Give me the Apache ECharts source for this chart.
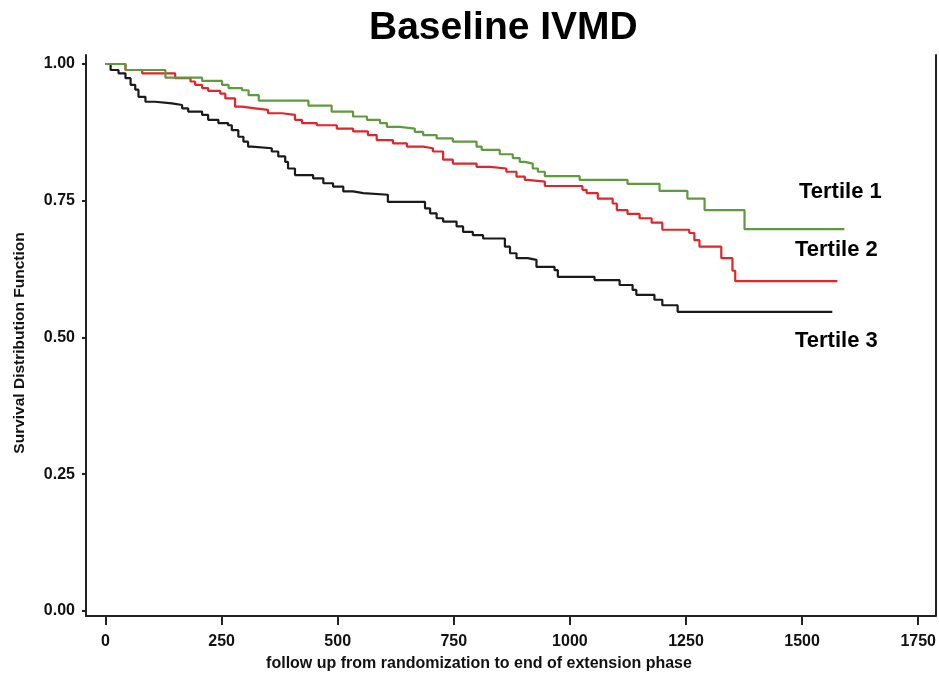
<!DOCTYPE html>
<html>
<head>
<meta charset="utf-8">
<script src="https://cdn.jsdelivr.net/npm/echarts@6/dist/echarts.min.js"></script>
<style>
  html, body { margin: 0; padding: 0; background: #fff; }
  #main { width: 939px; height: 678px; }
</style>
</head>
<body>
<div id="main"></div>
<script>
// tick labels
var xTicks = [0, 250, 500, 750, 1000, 1250, 1500, 1750];
var yTicks = [0, 0.25, 0.5, 0.75, 1];

// Tertile 1 (green)
var t1Days = [0, 43, 129, 208, 251, 265, 294, 308, 330, 437, 487, 533, 563, 591, 606, 634, 666, 684, 713, 748, 799, 810, 849, 877, 892, 903, 920, 931, 946, 1021, 1124, 1193, 1253, 1290, 1376, 1591];
var t1Surv = [1.0, 0.989, 0.975, 0.969, 0.962, 0.956, 0.952, 0.943, 0.933, 0.924, 0.913, 0.904, 0.898, 0.892, 0.885, 0.882, 0.876, 0.870, 0.864, 0.858, 0.849, 0.843, 0.835, 0.828, 0.821, 0.818, 0.809, 0.803, 0.795, 0.788, 0.781, 0.768, 0.754, 0.733, 0.698, 0.698];

// Tertile 2 (red)
var t2Days = [0, 43, 79, 150, 183, 193, 208, 221, 247, 258, 279, 294, 322, 350, 380, 408, 423, 455, 498, 533, 565, 584, 619, 649, 684, 705, 727, 748, 799, 828, 863, 885, 903, 909, 946, 1027, 1036, 1060, 1092, 1101, 1124, 1150, 1176, 1199, 1257, 1268, 1279, 1326, 1350, 1356, 1576];
var t2Surv = [1.0, 0.989, 0.983, 0.974, 0.968, 0.962, 0.956, 0.951, 0.946, 0.937, 0.922, 0.919, 0.916, 0.910, 0.907, 0.898, 0.892, 0.888, 0.882, 0.877, 0.870, 0.861, 0.855, 0.849, 0.846, 0.840, 0.825, 0.818, 0.812, 0.809, 0.803, 0.794, 0.788, 0.785, 0.777, 0.770, 0.764, 0.754, 0.745, 0.733, 0.726, 0.718, 0.710, 0.697, 0.691, 0.678, 0.666, 0.645, 0.622, 0.603, 0.603];

// Tertile 3 (black)
var t3Days = [0, 11, 28, 43, 54, 64, 71, 86, 107, 143, 165, 178, 208, 221, 243, 264, 272, 286, 297, 307, 315, 358, 372, 387, 393, 408, 447, 469, 490, 512, 533, 555, 608, 688, 699, 713, 727, 756, 770, 791, 813, 860, 871, 885, 909, 928, 967, 974, 1053, 1107, 1135, 1143, 1182, 1199, 1232, 1565];
var t3Surv = [1.0, 0.989, 0.983, 0.974, 0.962, 0.953, 0.940, 0.931, 0.928, 0.925, 0.919, 0.913, 0.907, 0.898, 0.892, 0.888, 0.879, 0.867, 0.858, 0.849, 0.846, 0.840, 0.831, 0.821, 0.809, 0.797, 0.791, 0.782, 0.776, 0.767, 0.764, 0.761, 0.748, 0.736, 0.727, 0.718, 0.712, 0.703, 0.693, 0.687, 0.681, 0.666, 0.654, 0.645, 0.642, 0.629, 0.623, 0.611, 0.605, 0.596, 0.587, 0.578, 0.569, 0.559, 0.547, 0.547];

var seriesNames = ['Tertile 1', 'Tertile 2', 'Tertile 3'];
var seriesColors = ['#5f9a3f', '#e0262c', '#1a1a1a'];

function zip(a, b) {
  var out = [];
  for (var i = 0; i < a.length; i++) out.push([a[i], b[i]]);
  return out;
}

var FONT = '"Liberation Sans", Arial, sans-serif';
var chart = echarts.init(document.getElementById('main'), null, { renderer: 'canvas' });

var allData = [zip(t1Days, t1Surv), zip(t2Days, t2Surv), zip(t3Days, t3Surv)];

var option = {
  backgroundColor: '#fff',
  animation: false,
  title: {
    text: 'Baseline IVMD',
    left: 369,
    top: 9,
    padding: 0,
    textStyle: { fontFamily: FONT, fontWeight: 'bold', fontSize: 39, color: '#000' }
  },
  grid: { left: 86, right: 2, top: 55, bottom: 62, containLabel: false },
  xAxis: {
    type: 'value',
    min: -42,
    max: 1787,
    axisLine: { onZero: false, lineStyle: { color: '#222', width: 2 } },
    axisTick: { customValues: xTicks, length: 9, lineStyle: { color: '#222', width: 2 } },
    axisLabel: {
      customValues: xTicks, margin: 18, fontFamily: FONT, fontWeight: 'bold', fontSize: 16, color: '#111',
      formatter: function (v) { return String(v); }
    },
    splitLine: { show: false }
  },
  yAxis: [{
    type: 'value',
    min: -0.00914,
    max: 1.01645,
    axisLine: { show: true, onZero: false, lineStyle: { color: '#222', width: 2 } },
    axisTick: { show: true, customValues: yTicks, length: 4, lineStyle: { color: '#222', width: 2 } },
    axisLabel: {
      customValues: yTicks, margin: 11, fontFamily: FONT, fontWeight: 'bold', fontSize: 16, color: '#111',
      formatter: function (v) { return v.toFixed(2); }
    },
    splitLine: { show: false }
  }, {
    type: 'value',
    position: 'right',
    min: -0.00914,
    max: 1.01645,
    axisLine: { show: true, onZero: false, lineStyle: { color: '#222', width: 2 } },
    axisTick: { show: false },
    axisLabel: { show: false },
    splitLine: { show: false }
  }],
  graphic: [
    { type: 'text', left: 799, top: 181, style: { text: seriesNames[0], font: 'bold 22px ' + FONT, fill: '#000' } },
    { type: 'text', left: 795, top: 239, style: { text: seriesNames[1], font: 'bold 22px ' + FONT, fill: '#000' } },
    { type: 'text', left: 795, top: 330, style: { text: seriesNames[2], font: 'bold 22px ' + FONT, fill: '#000' } },
    {
      type: 'text', x: 479, y: 664,
      style: { text: 'follow up from randomization to end of extension phase', font: 'bold 16px ' + FONT, fill: '#111', align: 'center', verticalAlign: 'middle' }
    },
    {
      type: 'text', x: 20, y: 343, rotation: Math.PI / 2,
      style: { text: 'Survival Distribution Function', font: 'bold 15.5px ' + FONT, fill: '#111', align: 'center', verticalAlign: 'middle' }
    }
  ],
  series: seriesNames.map(function (name, i) {
    return {
      name: name,
      type: 'line',
      step: 'end',
      showSymbol: false,
      data: allData[i],
      lineStyle: { color: seriesColors[i], width: 2.2 },
      itemStyle: { color: seriesColors[i] },
      z: 3 - i
    };
  })
};

chart.setOption(option);
</script>
</body>
</html>
